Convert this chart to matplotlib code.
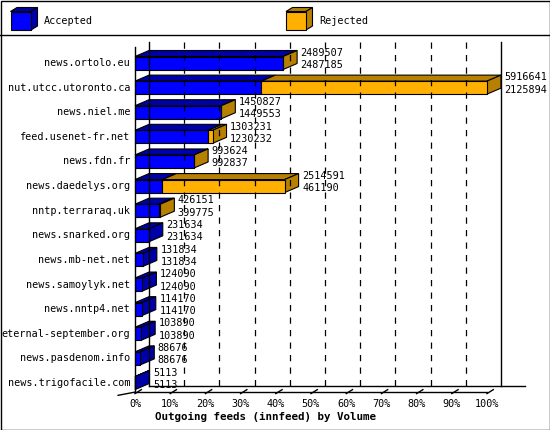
import matplotlib
matplotlib.use("Agg")
import matplotlib.pyplot as plt
from matplotlib.patches import Polygon, Rectangle

hosts = ["news.ortolo.eu", "nut.utcc.utoronto.ca", "news.niel.me", "feed.usenet-fr.net",
         "news.fdn.fr", "news.daedelys.org", "nntp.terraraq.uk", "news.snarked.org",
         "news.mb-net.net", "news.samoylyk.net", "news.nntp4.net", "eternal-september.org",
         "news.pasdenom.info", "news.trigofacile.com"]
offered = [2489507, 5916641, 1450827, 1303231, 993624, 2514591, 426151, 231634,
           131834, 124090, 114170, 103890, 88676, 5113]
accepted = [2487185, 2125894, 1449553, 1230232, 992837, 461190, 399775, 231634,
            131834, 124090, 114170, 103890, 88676, 5113]
ticks = [0, 10, 20, 30, 40, 50, 60, 70, 80, 90, 100]
xlabel = "Outgoing feeds (innfeed) by Volume"

BLUE, BLUE_D = "#0000ff", "#0000a8"
ORG, ORG_D = "#ffb000", "#b88000"
FONT = "DejaVu Sans Mono"
FS = 7.3

W, H = 550, 430
fig = plt.figure(figsize=(W/100, H/100), dpi=100)
# overlay in pixel coords for frame & legend
ov = fig.add_axes([0, 0, 1, 1]); ov.set_xlim(0, W); ov.set_ylim(H, 0); ov.axis("off")
ov.add_patch(Rectangle((0.5, 0.5), W-1, H-1, fill=False, ec="black", lw=1))
ov.plot([0, W], [35, 35], color="black", lw=1)

def box(ax, x0, x1, y0, y1, dx, dy, fc, dc, tc=None):
    tc = tc or dc
    ax.add_patch(Polygon([(x0, y0), (x1, y0), (x1+dx, y0-dy), (x0+dx, y0-dy)], closed=True, fc=tc, ec="black", lw=0.8, clip_on=False))
    ax.add_patch(Polygon([(x1, y0), (x1+dx, y0-dy), (x1+dx, y1-dy), (x1, y1)], closed=True, fc=dc, ec="black", lw=0.8, clip_on=False))
    ax.add_patch(Rectangle((x0, y0), x1-x0, y1-y0, fc=fc, ec="black", lw=0.8, clip_on=False))

box(ov, 10.5, 31, 11.5, 30, 6.5, 4, BLUE, BLUE_D)
ov.text(44, 21, "Accepted", fontsize=FS, family=FONT, va="center")
box(ov, 286, 306, 11.5, 30, 6.5, 4, ORG, ORG_D)
ov.text(319, 21, "Rejected", fontsize=FS, family=FONT, va="center")

# main axes: x 0..100 at px 135..487, rows 0..13 at y 63..383
left, right = 135, 487
sp = (383-63)/13
top_px, bot_px = 63-0.6*sp, 383+0.6*sp
ax = fig.add_axes([left/W, 1-bot_px/H, (right-left)/W, (bot_px-top_px)/H])
ax.set_xlim(0, 100); ax.set_ylim(13.6, -0.6); ax.axis("off")
dx = 14/(right-left)*100
dy = 6/sp
hh = 6.5/sp
ytop, yfb, ybb = -0.85, 13.37, 13.13

# back wall / grid
for t in ticks[1:-1]:
    ax.plot([t+dx, t+dx], [ytop, ybb], color="black", lw=0.9, ls=(0, (5, 5)), clip_on=False)
ax.plot([dx, dx], [ytop, ybb], color="black", lw=1, clip_on=False)
ax.plot([100+dx, 100+dx], [ytop, ybb], color="black", lw=1, clip_on=False)
ax.plot([0, 0], [-0.65, yfb], color="black", lw=1, clip_on=False)
ax.plot([dx, 110.8], [ybb, ybb], color="black", lw=1, clip_on=False)
ax.plot([0, 100], [yfb, yfb], color="black", lw=1, clip_on=False)
ax.plot([-4.8, 0], [13.5, yfb], color="black", lw=1, clip_on=False)
for t in ticks:
    ax.plot([t, t+dx*0.45], [yfb+0.06, yfb-0.1], color="black", lw=1, clip_on=False)
    ax.text(t, 13.86, f"{t}%", fontsize=FS, family=FONT, ha="center", va="center", clip_on=False)
ax.text(37, 14.4, xlabel, fontsize=FS+0.5, family=FONT, weight="bold", ha="center", va="center", clip_on=False)

mx = max(offered)
for i, (h, o, a) in enumerate(zip(hosts, offered, accepted)):
    vo = o/mx*100; va_ = a/mx*100
    y0, y1 = i-hh, i+hh
    # top faces
    ax.add_patch(Polygon([(0, y0), (va_, y0), (va_+dx, y0-dy), (dx, y0-dy)], closed=True, fc=BLUE_D, ec="black", lw=0.8, clip_on=False))
    if vo > va_:
        ax.add_patch(Polygon([(va_, y0), (vo, y0), (vo+dx, y0-dy), (va_+dx, y0-dy)], closed=True, fc=ORG_D, ec="black", lw=0.8, clip_on=False))
    sc = ORG_D if vo > va_ else BLUE_D
    ax.add_patch(Polygon([(vo, y0), (vo+dx, y0-dy), (vo+dx, y1-dy), (vo, y1)], closed=True, fc=sc, ec="black", lw=0.8, clip_on=False))
    ax.add_patch(Rectangle((0, y0), va_, y1-y0, fc=BLUE, ec="black", lw=0.8, clip_on=False))
    if vo > va_:
        ax.add_patch(Rectangle((va_, y0), vo-va_, y1-y0, fc=ORG, ec="black", lw=0.8, clip_on=False))
    tx = vo+dx+1.0
    ax.text(tx, i-0.42, str(o), fontsize=FS, family=FONT, va="center", clip_on=False)
    ax.text(tx, i+0.08, str(a), fontsize=FS, family=FONT, va="center", clip_on=False)
    ax.text(-1.4, i, h, fontsize=FS, family=FONT, ha="right", va="center", clip_on=False)

fig.savefig("out.png", dpi=100)
